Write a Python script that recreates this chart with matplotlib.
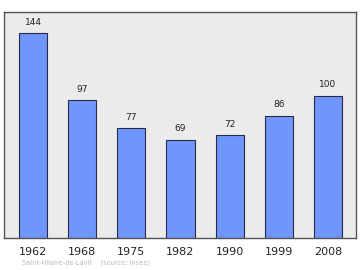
import matplotlib.pyplot as plt

years = ["1962", "1968", "1975", "1982", "1990", "1999", "2008"]
population = [144, 97, 77, 69, 72, 86, 100]

fig = plt.figure(figsize=(3.6, 2.7), dpi=100)
ax = fig.add_axes([4 / 360, 1 - 237.5 / 270, 352 / 360, 225.5 / 270])
ax.set_facecolor("#ebebeb")

x = range(len(years))
ax.bar(x, population, width=0.57, color="#6f96fa", edgecolor="#2a2a4a", linewidth=0.8)

for xi, v in zip(x, population):
    ax.text(xi, v + 4.5, str(v), ha="center", va="bottom", fontsize=6.5, color="#222222")

ax.set_xlim(-0.59, 6.57)
ax.set_ylim(0, 159)
ax.set_yticks([])
ax.set_xticks(list(x))
ax.set_xticklabels(years, fontsize=8, color="#222222")
ax.tick_params(axis="x", length=0, pad=6.5)
for s in ax.spines.values():
    s.set_color("#555555")
    s.set_linewidth(1)

fig.text(22 / 360, 1 - 263 / 270, "Saint-Hilaire-de-Lavit    (source: Insee)",
         fontsize=4.8, color="#bbbbbb", va="center")

fig.savefig("out.png", dpi=100)
